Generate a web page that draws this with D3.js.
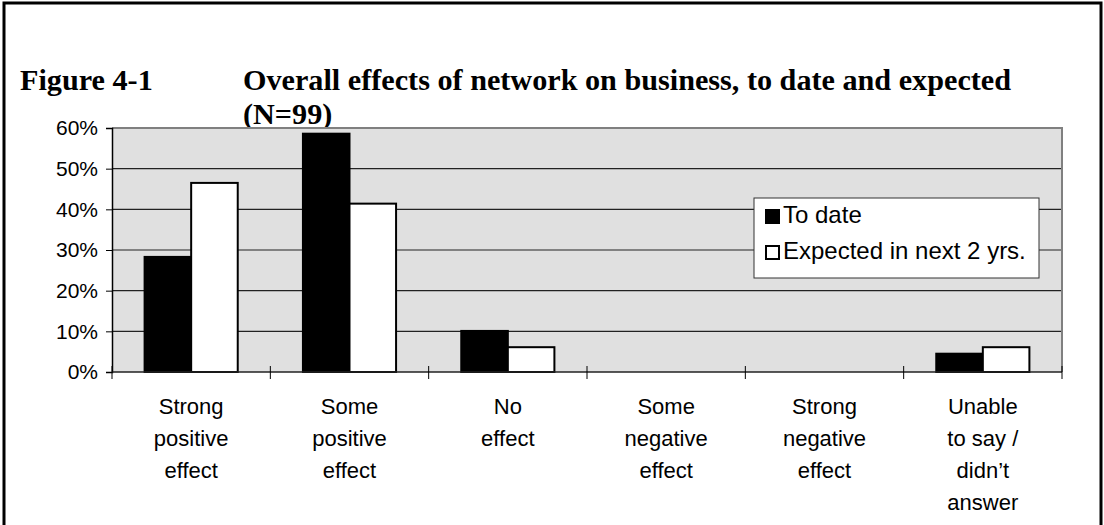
<!DOCTYPE html>
<html>
<head>
<meta charset="utf-8">
<script src="https://cdn.jsdelivr.net/npm/d3@7"></script>
<style>
  body { margin: 0; background: #fff; }
  svg { display: block; }
</style>
</head>
<body>
<div id="chart"></div>
<script>
// data (percent of N=99)
const categories = ["Strong\npositive\neffect", "Some\npositive\neffect", "No\neffect",
    "Some\nnegative\neffect", "Strong\nnegative\neffect", "Unable\nto say /\ndidn\u2019t\nanswer"];
const toDate = [28.3, 58.6, 10.1, 0, 0, 4.5];
const expected = [46.5, 41.4, 6.1, 0, 0, 6.1];
const seriesNames = ["To date", "Expected in next 2 yrs."];
const yTicks = [0, 10, 20, 30, 40, 50, 60];

const W = 1104, H = 525;
const margin = { top: 128, right: 42, bottom: 153, left: 112 },
    width = W - margin.left - margin.right,
    height = H - margin.top - margin.bottom;

const sans = "'Liberation Sans', Arial, sans-serif";
const serif = "'Liberation Serif', 'Times New Roman', serif";

const svg = d3.select("#chart").append("svg")
    .attr("width", W)
    .attr("height", H);

// outer frame
svg.append("rect")
    .attr("x", 4).attr("y", 3)
    .attr("width", W - 7).attr("height", H + 10)
    .attr("fill", "none")
    .attr("stroke", "#000")
    .attr("stroke-width", 3);

// title, two separate lines
const titleLines = [
    { x: 20, y: 90, t: "Figure 4-1" },
    { x: 243, y: 90, t: "Overall effects of network on business, to date and expected" },
    { x: 243, y: 124, t: "(N=99)" }
];
svg.selectAll(".title")
    .data(titleLines)
    .enter().append("text")
    .attr("class", "title")
    .attr("x", d => d.x)
    .attr("y", d => d.y)
    .attr("font-family", serif)
    .attr("font-weight", "bold")
    .attr("font-size", 30.2)
    .attr("fill", "#000")
    .text(d => d.t);

const g = svg.append("g")
    .attr("transform", "translate(" + margin.left + "," + margin.top + ")");

const x0 = d3.scaleBand()
    .domain(d3.range(categories.length))
    .range([0, width])
    .padding(0);

const x1 = d3.scaleBand()
    .domain([0, 1])
    .range([0, x0.bandwidth()])
    .paddingInner(0)
    .paddingOuter(0.7);

const y = d3.scaleLinear()
    .domain([0, 60])
    .range([height, 0]);

// plot background
g.append("rect")
    .attr("width", width)
    .attr("height", height)
    .attr("fill", "#e0e0e0");

// gridlines
g.append("g")
    .selectAll("line")
    .data(yTicks.filter(d => d > 0 && d < 60))
    .enter().append("line")
    .attr("x1", 0).attr("x2", width)
    .attr("y1", d => y(d)).attr("y2", d => y(d))
    .attr("stroke", "#222")
    .attr("stroke-width", 1.2);

// top and right border of the plot area
g.append("path")
    .attr("d", "M0," + y(60) + "H" + width + "V" + height)
    .attr("fill", "none")
    .attr("stroke", "#808080")
    .attr("stroke-width", 2);

// bars
const rows = categories.map((c, i) => ({ i: i, vals: [toDate[i], expected[i]] }));
const groups = g.selectAll(".grp")
    .data(rows)
    .enter().append("g")
    .attr("class", "grp")
    .attr("transform", d => "translate(" + x0(d.i) + ",0)");

groups.selectAll("rect")
    .data(d => d.vals.map((v, k) => ({ k: k, v: v })).filter(d => d.v > 0))
    .enter().append("rect")
    .attr("x", d => x1(d.k))
    .attr("y", d => y(d.v))
    .attr("width", x1.bandwidth())
    .attr("height", d => y(0) - y(d.v))
    .attr("fill", d => d.k === 0 ? "#000" : "#fff")
    .attr("stroke", "#000")
    .attr("stroke-width", 2);

// y axis
const yAxis = g.append("g")
    .call(d3.axisLeft(y).tickValues(yTicks).tickSize(6).tickPadding(8).tickFormat(d => d + "%"));
yAxis.select(".domain").attr("stroke", "#000").attr("stroke-width", 1.5);
yAxis.selectAll(".tick line").attr("stroke", "#000");
yAxis.selectAll("text")
    .attr("font-family", sans)
    .attr("font-size", 21)
    .attr("fill", "#000");

// x axis with ticks crossing the baseline
const xAxis = g.append("g")
    .attr("transform", "translate(0," + height + ")");
xAxis.append("line")
    .attr("x1", 0).attr("x2", width)
    .attr("stroke", "#222")
    .attr("stroke-width", 1.5);
xAxis.selectAll(".xt")
    .data(d3.range(categories.length + 1))
    .enter().append("line")
    .attr("class", "xt")
    .attr("x1", d => d * x0.step()).attr("x2", d => d * x0.step())
    .attr("y1", -6).attr("y2", 7)
    .attr("stroke", "#000")
    .attr("stroke-width", 1);

const labels = xAxis.selectAll(".xl")
    .data(categories)
    .enter().append("text")
    .attr("class", "xl")
    .attr("text-anchor", "middle")
    .attr("font-family", sans)
    .attr("font-size", 22)
    .attr("fill", "#000");
labels.each(function (d, i) {
    const t = d3.select(this);
    d.split("\n").forEach((line, j) => {
        t.append("tspan")
            .attr("x", x0(i) + x0.bandwidth() / 2)
            .attr("y", 42 + j * 32)
            .text(line);
    });
});

// legend
const legend = svg.append("g")
    .attr("transform", "translate(754,198)");
legend.append("rect")
    .attr("width", 285)
    .attr("height", 80)
    .attr("fill", "#fff")
    .attr("stroke", "#333")
    .attr("stroke-width", 1);
seriesNames.forEach((name, k) => {
    const row = legend.append("g")
        .attr("transform", "translate(11," + (11 + k * 36) + ")");
    row.append("rect")
        .attr("x", 1).attr("y", 1)
        .attr("width", 13).attr("height", 13)
        .attr("fill", k === 0 ? "#000" : "#fff")
        .attr("stroke", "#000")
        .attr("stroke-width", 2);
    row.append("text")
        .attr("x", 18)
        .attr("y", 14)
        .attr("font-family", sans)
        .attr("font-size", 24)
        .attr("fill", "#000")
        .text(name);
});
</script>
</body>
</html>
